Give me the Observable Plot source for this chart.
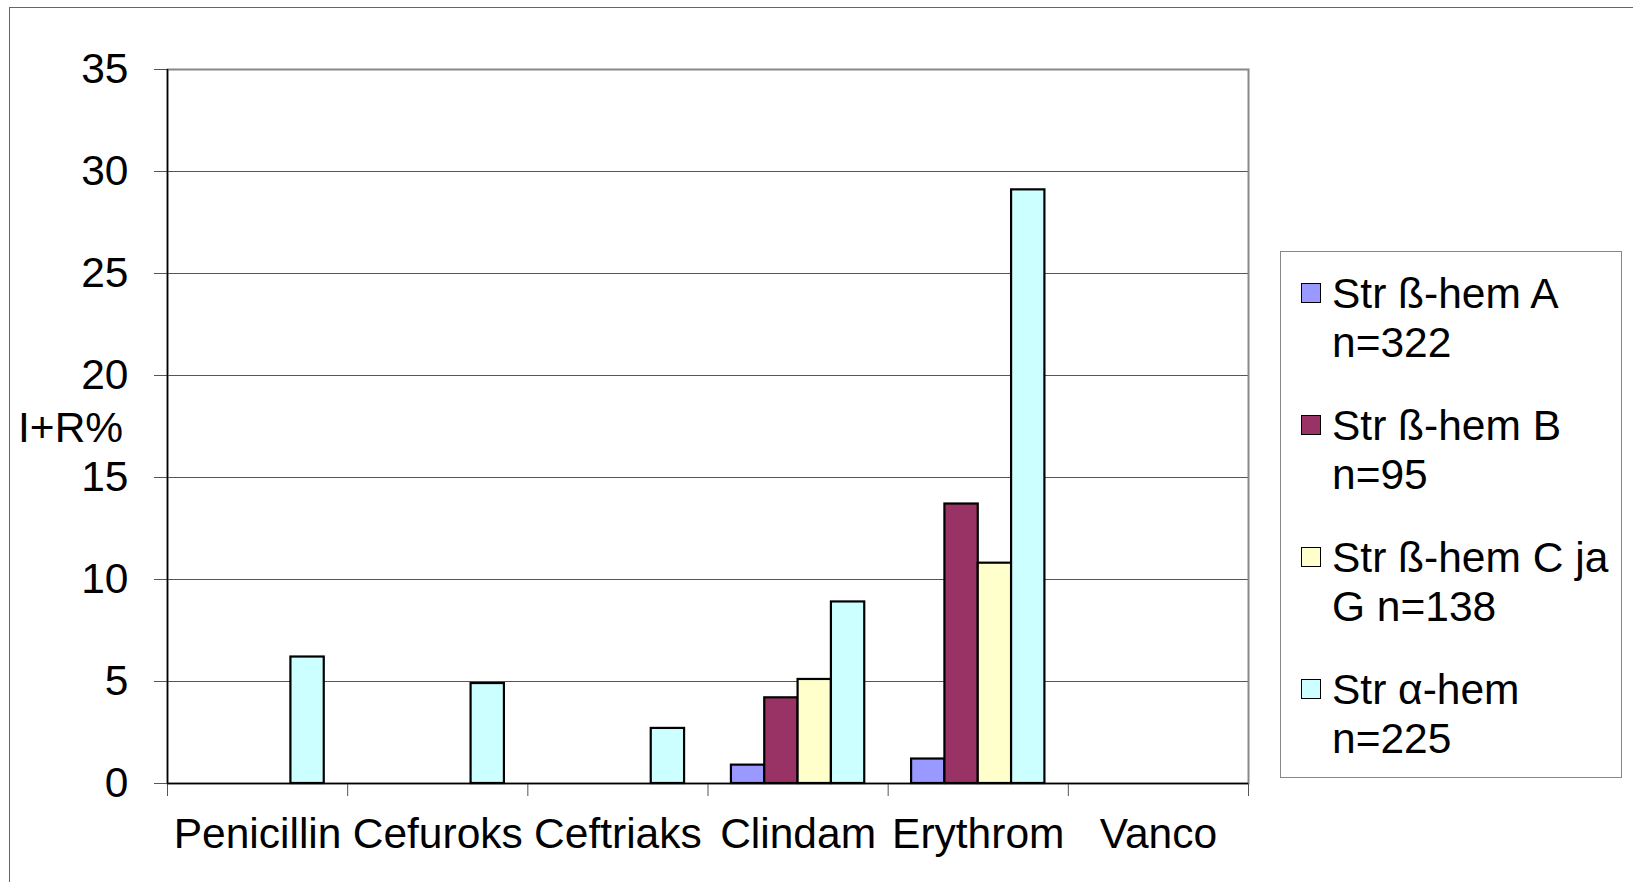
<!DOCTYPE html>
<html><head><meta charset="utf-8">
<script src="https://cdn.jsdelivr.net/npm/d3@7"></script>
<script src="https://cdn.jsdelivr.net/npm/@observablehq/plot@0.6"></script>
<style>
html,body{margin:0;padding:0;background:#fff;}
body{width:1633px;height:882px;position:relative;overflow:hidden;font-family:"Liberation Sans",Arial,sans-serif;color:#000;}
#chart{position:absolute;left:0;top:0;}
#border{position:absolute;left:9px;top:7px;width:2000px;height:2000px;border-left:1px solid #666;border-top:1px solid #666;}
#ylabel{position:absolute;left:18px;top:407px;font-size:42.5px;line-height:42px;white-space:nowrap;}
#legend{position:absolute;left:1280px;top:251px;width:342px;height:527px;border:1px solid #888;box-sizing:border-box;padding:17px 0 0 20px;background:#fff;}
.item{display:flex;align-items:flex-start;margin-bottom:34px;}
.sw{width:18px;height:18px;border:1.5px solid #000;margin-top:14px;margin-right:11px;flex:none;}
.lab{font-size:42.5px;line-height:49px;white-space:pre;}
</style>
</head>
<body>
<div id="border"></div>
<div id="chart"></div>
<div id="ylabel">I+R%</div>
<div id="legend"></div>
<script>
const categories = ["Penicillin", "Cefuroks", "Ceftriaks", "Clindam", "Erythrom", "Vanco"];
const series = ["Str ß-hem A n=322", "Str ß-hem B n=95", "Str ß-hem C ja G n=138", "Str α-hem n=225"];
const legendLines = ["Str ß-hem A\nn=322", "Str ß-hem B\nn=95", "Str ß-hem C ja\nG n=138", "Str α-hem\nn=225"];
const colors = ["#9999FF", "#993366", "#FFFFCC", "#CCFFFF"];
const strA = [0, 0, 0, 0.9, 1.2, 0];
const strB = [0, 0, 0, 4.2, 13.7, 0];
const strCG = [0, 0, 0, 5.1, 10.8, 0];
const strAlpha = [6.2, 4.9, 2.7, 8.9, 29.1, 0];
const yTicks = [0, 5, 10, 15, 20, 25, 30, 35];
const yLabel = "I+R%";

const values = [strA, strB, strCG, strAlpha];
const groupStart = 0.13, barW = 0.185;
const data = [];
categories.forEach((c, i) => series.forEach((s, j) => data.push({cat: c, i, j, series: s, value: values[j][i]})));

const chart = Plot.plot({
  width: 1633, height: 882,
  marginLeft: 167, marginRight: 385, marginTop: 69, marginBottom: 99,
  style: {fontFamily: "'Liberation Sans', Arial, sans-serif", fontSize: "42.5px", background: "transparent", color: "#000", overflow: "visible"},
  x: {domain: [0, categories.length], axis: null},
  y: {domain: [0, 35], axis: null},
  color: {domain: series, range: colors},
  marks: [
    Plot.gridY(yTicks, {stroke: "#555", strokeOpacity: 1, strokeWidth: 1}),
    Plot.frame({stroke: "#888", strokeWidth: 2}),
    Plot.axisY({ticks: yTicks, tickSize: 13, tickPadding: 26, fontSize: 42.5, stroke: "#555", strokeOpacity: 1, label: null}),
    Plot.axisX({ticks: d3.range(0, categories.length + 1), tickSize: 13, tickFormat: () => "", stroke: "#555", strokeOpacity: 1, label: null}),
    Plot.axisX({ticks: categories.map((c, i) => i + 0.5), tickFormat: d => categories[Math.floor(d)], tickSize: 0, tickPadding: 34, fontSize: 42.5, label: null}),
    Plot.ruleX([0], {stroke: "#000", strokeWidth: 1.5}),
    Plot.ruleY([0], {stroke: "#000", strokeWidth: 1.5}),
    Plot.rect(data.filter(d => d.value > 0), {
      x1: d => d.i + groupStart + d.j * barW,
      x2: d => d.i + groupStart + (d.j + 1) * barW,
      y1: 0, y2: "value",
      fill: "series", stroke: "#000", strokeWidth: 2.2
    })
  ]
});
document.getElementById("chart").appendChild(chart);
document.getElementById("ylabel").textContent = yLabel;

const legend = document.getElementById("legend");
series.forEach((s, j) => {
  const item = document.createElement("div");
  item.className = "item";
  const sw = document.createElement("div");
  sw.className = "sw";
  sw.style.background = colors[j];
  const lab = document.createElement("div");
  lab.className = "lab";
  lab.textContent = legendLines[j];
  item.appendChild(sw); item.appendChild(lab);
  legend.appendChild(item);
});
</script>
</body></html>
